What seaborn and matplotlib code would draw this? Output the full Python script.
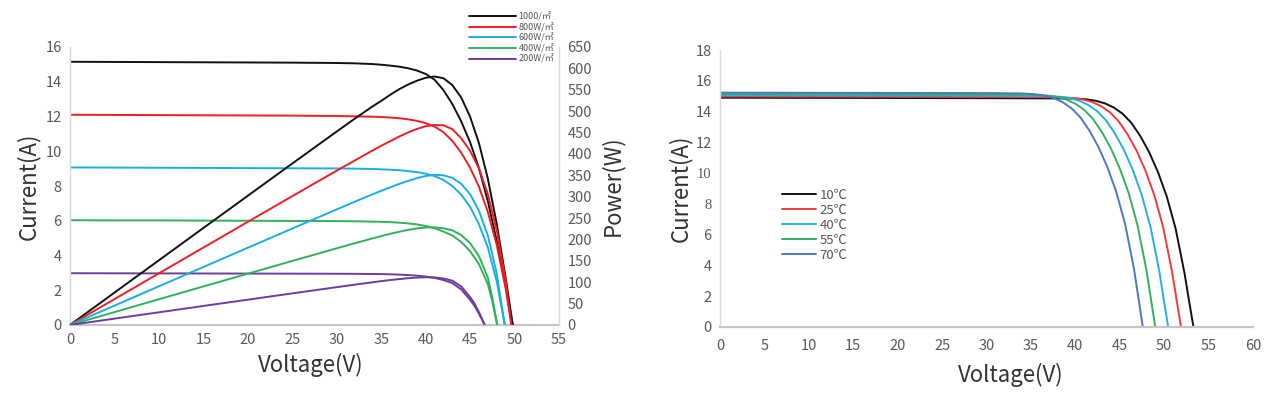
import matplotlib
matplotlib.use("Agg")
import matplotlib.pyplot as plt
import seaborn as sns
import pandas as pd

# ---------------- data: left chart (irradiance) ----------------
irr_labels = ["1000/㎡", "800W/㎡", "600W/㎡", "400W/㎡", "200W/㎡"]

V1000 = [0, 5, 10, 15, 20, 25, 30, 32, 34, 35, 36, 37, 38, 39, 40, 41, 42, 43, 44, 45, 46, 47, 48, 49, 49.8]
I1000 = [15.15, 15.14, 15.13, 15.12, 15.11, 15.10, 15.08, 15.06, 15.02, 14.98, 14.93, 14.87, 14.78, 14.65,
         14.45, 14.12, 13.52, 12.72, 11.72, 10.52, 9.02, 7.12, 4.82, 2.22, 0]
P1000 = [0, 75.7, 151.3, 226.8, 302.2, 377.5, 452.4, 482.0, 510.7, 524.0, 538.0, 551.0, 562.0, 571.0,
         578.0, 581.0, 577.0, 561.0, 532.0, 487.0, 425.0, 342.0, 236.0, 110.0, 0]

V800 = [0, 5, 10, 15, 20, 25, 30, 32, 34, 35, 36, 37, 38, 39, 40, 41, 42, 43, 44, 45, 46, 47, 48, 49, 49.65]
I800 = [12.10, 12.09, 12.08, 12.07, 12.06, 12.05, 12.03, 12.01, 11.99, 11.97, 11.94, 11.90, 11.84, 11.75,
        11.62, 11.42, 11.10, 10.60, 9.92, 9.05, 7.95, 6.50, 4.60, 2.10, 0]
P800 = [0, 60.45, 120.8, 181.05, 241.2, 301.25, 360.9, 384.3, 407.7, 419.0, 429.8, 440.3, 449.9, 458.3,
        464.8, 467.5, 467.0, 458.0, 436.5, 407.3, 365.7, 305.5, 220.8, 102.9, 0]

V600 = [0, 5, 10, 15, 20, 25, 30, 32, 34, 35, 36, 37, 38, 39, 40, 41, 42, 43, 44, 45, 46, 47, 48, 48.9]
I600 = [9.07, 9.06, 9.05, 9.04, 9.03, 9.02, 9.01, 9.00, 8.98, 8.96, 8.94, 8.91, 8.86, 8.80,
        8.71, 8.57, 8.35, 8.00, 7.50, 6.80, 5.80, 4.45, 2.50, 0]
P600 = [0, 45.3, 90.5, 135.6, 180.6, 225.5, 270.3, 288.0, 305.3, 313.6, 321.8, 329.7, 336.7, 343.2,
        348.4, 351.0, 350.0, 344.0, 330.0, 306.0, 266.8, 209.2, 120.0, 0]

V400 = [0, 5, 10, 15, 20, 25, 30, 32, 34, 35, 36, 37, 38, 39, 40, 41, 42, 43, 44, 45, 46, 47, 47.5, 48.05]
I400 = [6.03, 6.02, 6.02, 6.01, 6.00, 5.99, 5.98, 5.97, 5.95, 5.94, 5.92, 5.89, 5.85, 5.79,
        5.70, 5.57, 5.38, 5.15, 4.78, 4.25, 3.50, 2.35, 1.35, 0]
P400 = [0, 30.1, 60.2, 90.15, 120.0, 149.75, 179.4, 191.0, 202.3, 207.9, 213.1, 217.9, 222.3, 225.8,
        228.0, 228.4, 226.0, 221.5, 210.3, 191.3, 161.0, 110.5, 64.1, 0]

V200 = [0, 5, 10, 15, 20, 25, 30, 32, 34, 35, 36, 37, 38, 39, 40, 41, 42, 43, 44, 45, 45.5, 46, 46.65]
I200 = [2.98, 2.975, 2.97, 2.965, 2.96, 2.955, 2.95, 2.945, 2.935, 2.93, 2.92, 2.90, 2.875, 2.84,
        2.79, 2.71, 2.59, 2.41, 2.05, 1.45, 1.10, 0.65, 0]
P200 = [0, 14.9, 29.7, 44.5, 59.2, 73.9, 88.5, 94.2, 99.8, 102.6, 105.1, 107.3, 109.3, 110.8,
        111.6, 111.1, 108.8, 103.6, 90.2, 65.3, 50.1, 29.9, 0]

# ---------------- data: right chart (temperature) ----------------
temp_labels = ["10℃", "25℃", "40℃", "55℃", "70℃"]

VT10 = [0, 10, 20, 30, 39.3, 40.3, 41.3, 42.3, 43.3, 44.3, 45.3, 46.3, 47.3, 48.3, 49.3, 50.3, 51.3, 52.3, 52.8, 53.3]
IT10 = [14.90, 14.89, 14.88, 14.87, 14.85, 14.83, 14.79, 14.70, 14.54, 14.27, 13.87, 13.27, 12.42, 11.37,
        10.07, 8.47, 6.37, 3.47, 1.70, 0]

VT25 = [0, 10, 20, 30, 37.9, 38.9, 39.9, 40.9, 41.9, 42.9, 43.9, 44.9, 45.9, 46.9, 47.9, 48.9, 49.9, 50.9, 51.4, 51.9]
IT25 = [14.98, 14.97, 14.96, 14.95, 14.93, 14.91, 14.87, 14.78, 14.62, 14.35, 13.95, 13.35, 12.50, 11.45,
        10.15, 8.55, 6.45, 3.55, 1.75, 0]

VT40 = [0, 10, 20, 30, 36.45, 37.45, 38.45, 39.45, 40.45, 41.45, 42.45, 43.45, 44.45, 45.45, 46.45, 47.45,
        48.45, 49.45, 49.95, 50.45]
IT40 = [15.06, 15.05, 15.04, 15.03, 15.01, 14.99, 14.95, 14.86, 14.70, 14.43, 14.03, 13.43, 12.58, 11.53,
        10.23, 8.63, 6.53, 3.63, 1.80, 0]

VT55 = [0, 10, 20, 30, 35, 36, 37, 38, 39, 40, 41, 42, 43, 44, 45, 46, 47, 48, 48.5, 49]
IT55 = [15.14, 15.13, 15.12, 15.11, 15.09, 15.07, 15.03, 14.94, 14.78, 14.51, 14.11, 13.51, 12.66, 11.61,
        10.31, 8.71, 6.61, 3.71, 1.85, 0]

VT70 = [0, 10, 20, 30, 33.6, 34.6, 35.6, 36.6, 37.6, 38.6, 39.6, 40.6, 41.6, 42.6, 43.6, 44.6, 45.6, 46.6, 47.1, 47.6]
IT70 = [15.23, 15.22, 15.21, 15.20, 15.18, 15.16, 15.12, 15.03, 14.87, 14.60, 14.20, 13.60, 12.75, 11.70,
        10.40, 8.80, 6.70, 3.80, 1.90, 0]

x_ticks_left = [0, 5, 10, 15, 20, 25, 30, 35, 40, 45, 50, 55]
y_ticks_left = [0, 2, 4, 6, 8, 10, 12, 14, 16]
p_ticks = [0, 50, 100, 150, 200, 250, 300, 350, 400, 450, 500, 550, 600, 650]
x_ticks_right = [0, 5, 10, 15, 20, 25, 30, 35, 40, 45, 50, 55, 60]
y_ticks_right = [0, 2, 4, 6, 8, 10, 12, 14, 16, 18]

irr_colors = ["#111111", "#f21d24", "#1aaee6", "#2fb25a", "#6a3d9e"]
temp_colors = ["#111111", "#f23a3a", "#22b0e6", "#33b060", "#4a78c4"]

# ---------------- style ----------------
sns.set_theme(style="white")
plt.rcParams["font.family"] = ["Noto Sans CJK SC", "DejaVu Sans"]
plt.rcParams["axes.unicode_minus"] = False

TICK_C = "#595959"
LABEL_C = "#333333"
SPINE_LIGHT = "#d9d9d9"
SPINE_BOTTOM = "#c6c6c6"
LW = 1.4

fig = plt.figure(figsize=(12.8, 3.97), dpi=100)
ax1 = fig.add_axes([70 / 1280, 1 - 325 / 397, (559 - 70) / 1280, (325 - 47) / 397])
ax1b = ax1.twinx()
ax2 = fig.add_axes([720 / 1280, 1 - 327 / 397, (1253 - 720) / 1280, (327 - 50) / 397])

# left: I-V and P-V curves
iv_sets = [(V1000, I1000, P1000), (V800, I800, P800), (V600, I600, P600),
           (V400, I400, P400), (V200, I200, P200)]
for (v, i, p), col in zip(iv_sets, irr_colors):
    df = pd.DataFrame({"V": v, "I": i, "P": p})
    sns.lineplot(data=df, x="V", y="I", ax=ax1, color=col, lw=LW, sort=False,
                 estimator=None, legend=False)
    sns.lineplot(data=df, x="V", y="P", ax=ax1b, color=col, lw=LW, sort=False,
                 estimator=None, legend=False)
handles = ax1.get_lines()[:5]

ax1.set_xlim(0, 55)
ax1.set_ylim(0, 16)
ax1b.set_ylim(0, 650)
ax1.set_xticks(x_ticks_left)
ax1.set_yticks(y_ticks_left)
ax1b.set_yticks(p_ticks)

for a in (ax1, ax1b):
    a.tick_params(axis="both", length=0, labelsize=10.5, labelcolor=TICK_C)
    for s in a.spines.values():
        s.set_visible(False)
    a.grid(False)
ax1.tick_params(axis="x", pad=6)
ax1.tick_params(axis="y", pad=6)
ax1b.tick_params(axis="y", pad=6)
ax1.spines["left"].set_visible(True)
ax1.spines["left"].set_color(SPINE_LIGHT)
ax1.spines["left"].set_linewidth(1.0)
ax1.spines["bottom"].set_visible(True)
ax1.spines["bottom"].set_color(SPINE_BOTTOM)
ax1.spines["bottom"].set_linewidth(1.6)
ax1b.spines["right"].set_visible(True)
ax1b.spines["right"].set_color(SPINE_LIGHT)
ax1b.spines["right"].set_linewidth(1.0)

ax1.set_xlabel("Voltage(V)", fontsize=16, color=LABEL_C)
ax1.set_ylabel("Current(A)", fontsize=16, color=LABEL_C)
ax1b.set_ylabel("Power(W)", fontsize=16, color=LABEL_C)
ax1.xaxis.set_label_coords(0.493, -0.1)
ax1.yaxis.set_label_coords(-0.06, 0.5)
ax1b.yaxis.set_label_coords(1.085, 0.5)

leg1 = fig.legend(handles=handles, labels=irr_labels, loc="upper left",
                  bbox_to_anchor=(469 / 1280, 1 - 12 / 397), bbox_transform=fig.transFigure,
                  frameon=False, fontsize=6.5, handlelength=5.2, handletextpad=0.3,
                  labelspacing=0.12, borderpad=0, borderaxespad=0)
for t in leg1.get_texts():
    t.set_color("#555555")

# right: temperature I-V curves
t_sets = [(VT10, IT10), (VT25, IT25), (VT40, IT40), (VT55, IT55), (VT70, IT70)]
for (v, i), col in zip(t_sets, temp_colors):
    df = pd.DataFrame({"V": v, "I": i})
    sns.lineplot(data=df, x="V", y="I", ax=ax2, color=col, lw=LW, sort=False,
                 estimator=None, legend=False)

ax2.set_xlim(0, 60)
ax2.set_ylim(0, 18)
ax2.set_xticks(x_ticks_right)
ax2.set_yticks(y_ticks_right)
ax2.set_yticklabels([str(t) for t in y_ticks_right])
ax2.tick_params(axis="both", length=0, labelsize=10.5, labelcolor=TICK_C)
ax2.tick_params(axis="x", pad=9)
ax2.tick_params(axis="y", pad=6)
for s in ax2.spines.values():
    s.set_visible(False)
ax2.spines["left"].set_visible(True)
ax2.spines["left"].set_color(SPINE_LIGHT)
ax2.spines["left"].set_linewidth(1.0)
ax2.spines["bottom"].set_visible(True)
ax2.spines["bottom"].set_color(SPINE_BOTTOM)
ax2.spines["bottom"].set_linewidth(1.6)
ax2.grid(False)
for lbl in ax2.get_yticklabels():
    if lbl.get_text() in ("10", "8"):
        lbl.set_family(["Liberation Serif", "DejaVu Serif"])

ax2.set_xlabel("Voltage(V)", fontsize=16, color=LABEL_C)
ax2.set_ylabel("Current(A)", fontsize=16, color=LABEL_C)
ax2.xaxis.set_label_coords(0.545, -0.13)
ax2.yaxis.set_label_coords(-0.052, 0.5)

leg2 = ax2.legend(handles=ax2.get_lines()[:5], labels=temp_labels, loc="upper left",
                  bbox_to_anchor=(782 / 1280, 1 - 189 / 397), bbox_transform=fig.transFigure,
                  frameon=False, fontsize=9.5, handlelength=2.6, handletextpad=0.25,
                  labelspacing=0.15, borderpad=0, borderaxespad=0)
for t in leg2.get_texts():
    t.set_color("#555555")

fig.savefig("out.png", dpi=100)
